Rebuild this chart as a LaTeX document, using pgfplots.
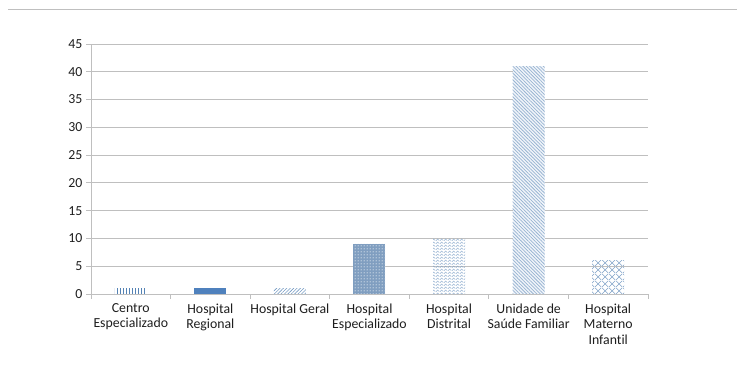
\documentclass[border=0pt]{standalone}
\usepackage{pgfplots}
\pgfplotsset{compat=1.18}
\usepackage{fontspec}
\setmainfont{Carlito}[Ligatures={NoCommon}]
\usetikzlibrary{patterns,patterns.meta}
\definecolor{barblue}{RGB}{79,129,189}
\definecolor{patblue}{RGB}{84,130,180}
\definecolor{dotfill}{RGB}{128,158,192}
\definecolor{axgray}{RGB}{191,191,191}
\definecolor{txt}{RGB}{30,30,30}
\tikzdeclarepattern{
  name=myzigzag,
  type=uncolored,
  bounding box={(0,0) and (4pt,3pt)},
  tile size={(4pt,3pt)},
  code={\draw[line width=0.55pt] (0,0.4pt) -- (2pt,2.6pt) -- (4pt,0.4pt);}
}
\tikzdeclarepattern{
  name=mycross,
  type=uncolored,
  bounding box={(0,0) and (7pt,7pt)},
  tile size={(7pt,7pt)},
  code={\draw[line width=0.6pt] (0,0) -- (7pt,7pt) (0,7pt) -- (7pt,0);}
}
\tikzdeclarepattern{
  name=mydots,
  type=uncolored,
  bounding box={(0,0) and (3pt,3pt)},
  tile size={(3pt,3pt)},
  code={\fill (1.5pt,1.5pt) circle (0.8pt);}
}
\begin{document}
\begin{tikzpicture}
\useasboundingbox (0,0) rectangle (737pt,385pt);
\draw[axgray, line width=1pt] (8pt,375pt) -- (737pt,375pt);
\begin{axis}[
  at={(91pt,91pt)}, anchor=south west,
  scale only axis, width=557pt, height=250pt,
  xmin=-0.5, xmax=6.5, ymin=0, ymax=45,
  ytick={0,5,...,45},
  xtick={0,...,6},
  xticklabels={Centro\\Especializado, Hospital\\Regional, Hospital Geral, Hospital\\Especializado, Hospital\\Distrital, Unidade de\\Saúde Familiar, Hospital\\Materno\\Infantil},
  xticklabel style={align=center, text=txt, font=\fontsize{13.8}{15.5}\selectfont, yshift=-1pt},
  yticklabel style={text=txt, font=\fontsize{13.8}{15.5}\selectfont},
  /pgf/number format/assume math mode=true,
  minor xtick={-0.5,0.5,...,6.5},
  major x tick style={draw=none},
  minor x tick style={axgray, line width=0.8pt},
  y tick style={axgray, line width=0.8pt},
  tick align=outside,
  major tick length=5pt, minor tick length=5pt,
  axis x line*=bottom, axis y line*=left,
  axis line style={axgray, line width=0.8pt, -},
  ymajorgrids, grid style={axgray, line width=0.8pt},
  ybar, bar width=32pt, bar shift=0pt,
]
\addplot[draw=none, pattern={Lines[angle=90, distance=3pt, line width=0.6pt]}, pattern color=patblue] coordinates {(0,1)};
\addplot[draw=none, fill=barblue] coordinates {(1,1)};
\addplot[draw=none, pattern={Lines[angle=45, distance=2.4pt, line width=0.6pt]}, pattern color=patblue!80] coordinates {(2,1)};
\addplot[draw=none, fill=dotfill, postaction={pattern=mydots, pattern color=white!75!dotfill}] coordinates {(3,9)};
\addplot[draw=none, pattern=myzigzag, pattern color=patblue!75] coordinates {(4,10)};
\addplot[draw=none, fill=barblue!8, postaction={pattern={Lines[angle=-45, distance=2.4pt, line width=0.75pt]}, pattern color=patblue!60}] coordinates {(5,41)};
\addplot[draw=none, pattern=mycross, pattern color=patblue!75] coordinates {(6,6)};
\end{axis}
\end{tikzpicture}
\end{document}
